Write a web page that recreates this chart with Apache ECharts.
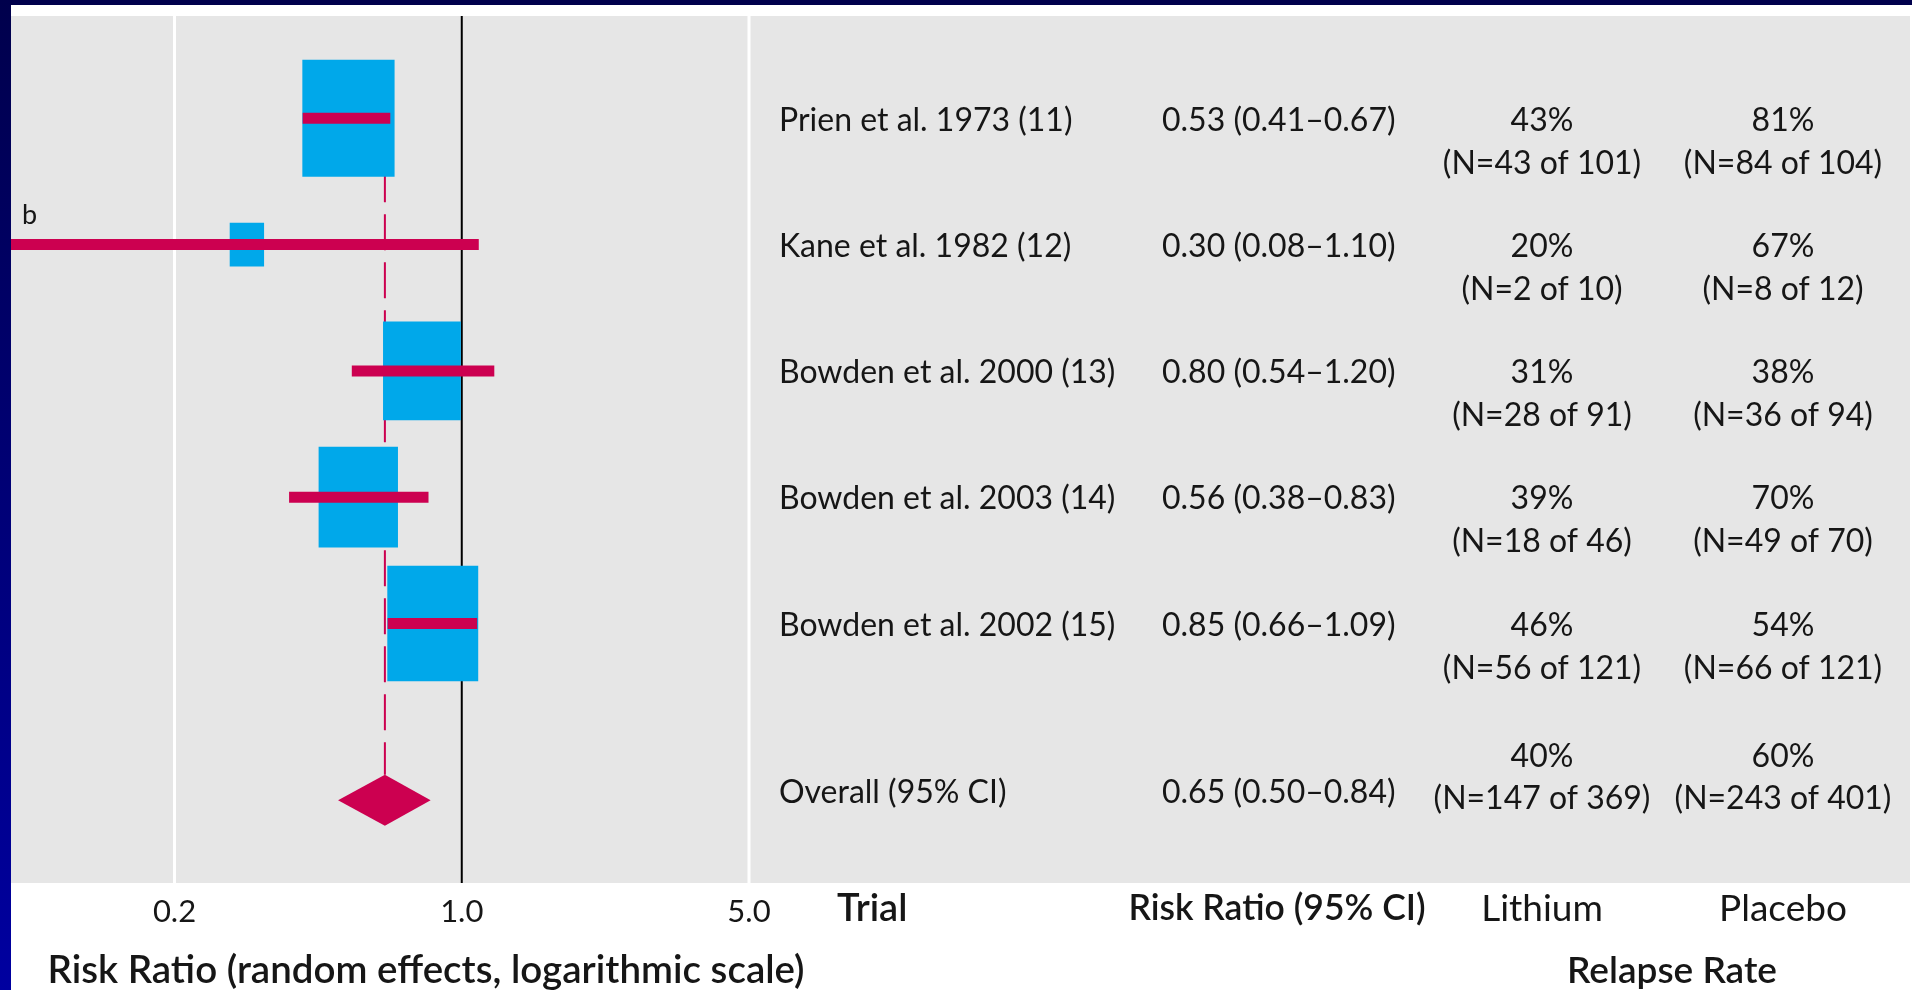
<!DOCTYPE html>
<html>
<head>
<meta charset="utf-8">
<script src="https://cdn.jsdelivr.net/npm/echarts@6/dist/echarts.min.js"></script>
<style>
  html, body { margin: 0; padding: 0; background: #ffffff; }
  #chart { width: 1912px; height: 990px; }
</style>
</head>
<body>
<div id="chart"></div>
<script>
// ---- Trial data ----
const trials = [
  'Prien et al. 1973 (11)',
  'Kane et al. 1982 (12)',
  'Bowden et al. 2000 (13)',
  'Bowden et al. 2003 (14)',
  'Bowden et al. 2002 (15)'
];
const riskRatio = [0.53, 0.30, 0.80, 0.56, 0.85];
const ciLow     = [0.41, 0.08, 0.54, 0.38, 0.66];
const ciHigh    = [0.67, 1.10, 1.20, 0.83, 1.09];
const weightPct = [28.1, 3.9, 20.0, 20.8, 27.3];   // random-effects weights (box area)

const lithiumPct    = [43, 20, 31, 39, 46];
const lithiumEvents = [43, 2, 28, 18, 56];
const lithiumTotal  = [101, 10, 91, 46, 121];
const placeboPct    = [81, 67, 38, 70, 54];
const placeboEvents = [84, 8, 36, 49, 66];
const placeboTotal  = [104, 12, 94, 70, 121];

// ---- Pooled estimate ----
const overallLabel = 'Overall (95% CI)';
const overallRR = 0.65, overallLow = 0.50, overallHigh = 0.84;
const overallLithium = { pct: 40, events: 147, total: 369 };
const overallPlacebo = { pct: 60, events: 243, total: 401 };

// ---- Axis ticks ----
const tickValues = [0.2, 1.0, 5.0];
const tickLabels = ['0.2', '1.0', '5.0'];

// ---- Layout / style ----
const FONT = 'Lato, "Open Sans", sans-serif';
const TEXT = '#161616';
const RED = '#cc0050';
const BLUE = '#00a8ea';
const Y_MIN = 0.19, Y_MAX = 7.055;
const OVERALL_ROW = 6.4;
const BOX_SCALE = 17.4, BOX_ASPECT = 1.27;
const CI_THICK = 11;
const DIAMOND_H = 51;
const COL_TRIAL = 779, COL_RR = 1162, COL_LI = 1542, COL_PL = 1783;

const fmt2 = v => v.toFixed(2);
const rrText = (e, l, h) => fmt2(e) + ' (' + fmt2(l) + '\u2013' + fmt2(h) + ')';

const studyData = trials.map((t, i) => [riskRatio[i], i + 1, ciLow[i], ciHigh[i], weightPct[i]]);
const tableRows = trials.map((t, i) => [1, i + 1]).concat([[1, OVERALL_ROW]]);

const chart = echarts.init(document.getElementById('chart'));

function txt(x, y, text, align, opts) {
  return Object.assign({
    type: 'text', x: x, y: y,
    style: {
      text: text, fill: TEXT, fontFamily: FONT, fontSize: 32,
      align: align, verticalAlign: 'middle'
    }
  }, opts || {});
}

function header(x, y, text, align, size, weight) {
  return { type: 'text', x: x, y: y,
    style: { text: text, fill: TEXT, fontFamily: FONT, fontSize: size, fontWeight: weight || 'normal',
      align: align, verticalAlign: 'middle' } };
}

const option = {
  animation: false,
  backgroundColor: '#ffffff',
  graphic: [
    // frame and panel
    { type: 'rect', z: -10, shape: { x: 11, y: 16, width: 1899, height: 867 }, style: { fill: '#e6e6e6' } },
    { type: 'rect', z: -9, shape: { x: 0, y: 0, width: 1912, height: 5 }, style: { fill: '#00004c' } },
    { type: 'rect', z: -9, shape: { x: 0, y: 0, width: 11, height: 990 },
      style: { fill: new echarts.graphic.LinearGradient(0, 0, 0, 1, [
        { offset: 0, color: '#00004c' }, { offset: 1, color: '#0000a0' }]) } },
    // column headers
    header(837, 909, 'Trial', 'left', 38, 600),
    header(1277, 909, 'Risk Ratio (95% CI)', 'center', 35.5, 600),
    header(COL_LI, 909, 'Lithium', 'center', 37),
    header(COL_PL, 909, 'Placebo', 'center', 37),
    header(1672, 971, 'Relapse Rate', 'center', 37, 600),
    header(426, 971, 'Risk Ratio (random effects, logarithmic scale)', 'center', 38.5, 600),
    // footnote marker on the truncated interval
    header(22, 215, 'b', 'left', 27)
  ],
  grid: { left: 11, top: 16, width: 738, height: 867 },
  xAxis: {
    type: 'log', logBase: 5, min: 0.08, max: 5,
    axisLine: { show: false }, axisTick: { show: false }, splitLine: { show: false },
    axisLabel: {
      showMinLabel: false,
      margin: 13,
      fontFamily: FONT, fontSize: 31, color: TEXT,
      formatter: function (v) {
        const k = tickValues.findIndex(t => Math.abs(t - v) / t < 1e-6);
        return k >= 0 ? tickLabels[k] : '';
      }
    }
  },
  yAxis: { type: 'value', inverse: true, min: Y_MIN, max: Y_MAX, show: false },
  series: [
    {
      // reference lines at the labelled ticks (null effect in black)
      type: 'custom', z: 1,
      data: tickValues.map(v => [v, Y_MIN]),
      renderItem: function (params, api) {
        const v = api.value(0);
        const a = api.coord([v, Y_MIN]), b = api.coord([v, Y_MAX]);
        const isNull = Math.abs(v - 1) < 1e-9;
        return { type: 'line', shape: { x1: a[0], y1: a[1], x2: b[0], y2: b[1] },
          style: { stroke: isNull ? '#000000' : '#ffffff', lineWidth: isNull ? 2 : 3 } };
      }
    },
    {
      // pooled estimate guide
      type: 'custom', z: 2,
      data: [[overallRR, 1]],
      renderItem: function (params, api) {
        const a = api.coord([api.value(0), api.value(1)]);
        const b = api.coord([api.value(0), OVERALL_ROW]);
        return { type: 'line', shape: { x1: a[0], y1: a[1], x2: b[0], y2: b[1] - DIAMOND_H / 2 },
          style: { stroke: RED, lineWidth: 2, lineDash: [36, 12] } };
      }
    },
    {
      // weight boxes
      type: 'custom', z: 3,
      data: studyData,
      renderItem: function (params, api) {
        const c = api.coord([api.value(0), api.value(1)]);
        const w = BOX_SCALE * Math.sqrt(api.value(4));
        const h = w * BOX_ASPECT;
        return { type: 'rect', shape: { x: c[0] - w / 2, y: c[1] - h / 2, width: w, height: h },
          style: { fill: BLUE } };
      }
    },
    {
      // 95% confidence intervals
      type: 'custom', z: 4,
      data: studyData,
      renderItem: function (params, api) {
        const a = api.coord([api.value(2), api.value(1)]);
        const b = api.coord([api.value(3), api.value(1)]);
        return { type: 'rect', shape: { x: a[0], y: a[1] - CI_THICK / 2, width: b[0] - a[0], height: CI_THICK },
          style: { fill: RED } };
      }
    },
    {
      // pooled diamond
      type: 'custom', z: 5,
      data: [[overallRR, OVERALL_ROW, overallLow, overallHigh]],
      renderItem: function (params, api) {
        const c = api.coord([api.value(0), api.value(1)]);
        const l = api.coord([api.value(2), api.value(1)]);
        const r = api.coord([api.value(3), api.value(1)]);
        return { type: 'polygon', shape: { points: [[l[0], c[1]], [c[0], c[1] - DIAMOND_H / 2], [r[0], c[1]], [c[0], c[1] + DIAMOND_H / 2]] },
          style: { fill: RED } };
      }
    },
    {
      // table columns
      type: 'custom', z: 6,
      data: tableRows,
      renderItem: function (params, api) {
        const i = params.dataIndex;
        const y = api.coord([1, api.value(1)])[1];
        let children;
        if (i < trials.length) {
          const y1 = y + 2, y2 = y + 45;
          children = [
            txt(COL_TRIAL, y1, trials[i], 'left'),
            txt(COL_RR, y1, rrText(riskRatio[i], ciLow[i], ciHigh[i]), 'left'),
            txt(COL_LI, y1, lithiumPct[i] + '%', 'center'),
            txt(COL_LI, y2, '(N=' + lithiumEvents[i] + ' of ' + lithiumTotal[i] + ')', 'center'),
            txt(COL_PL, y1, placeboPct[i] + '%', 'center'),
            txt(COL_PL, y2, '(N=' + placeboEvents[i] + ' of ' + placeboTotal[i] + ')', 'center')
          ];
        } else {
          children = [
            txt(COL_TRIAL, y - 8, overallLabel, 'left'),
            txt(COL_RR, y - 8, rrText(overallRR, overallLow, overallHigh), 'left'),
            txt(COL_LI, y - 44, overallLithium.pct + '%', 'center'),
            txt(COL_LI, y - 2, '(N=' + overallLithium.events + ' of ' + overallLithium.total + ')', 'center'),
            txt(COL_PL, y - 44, overallPlacebo.pct + '%', 'center'),
            txt(COL_PL, y - 2, '(N=' + overallPlacebo.events + ' of ' + overallPlacebo.total + ')', 'center')
          ];
        }
        return { type: 'group', children: children };
      }
    }
  ]
};

chart.setOption(option);
</script>
</body>
</html>
